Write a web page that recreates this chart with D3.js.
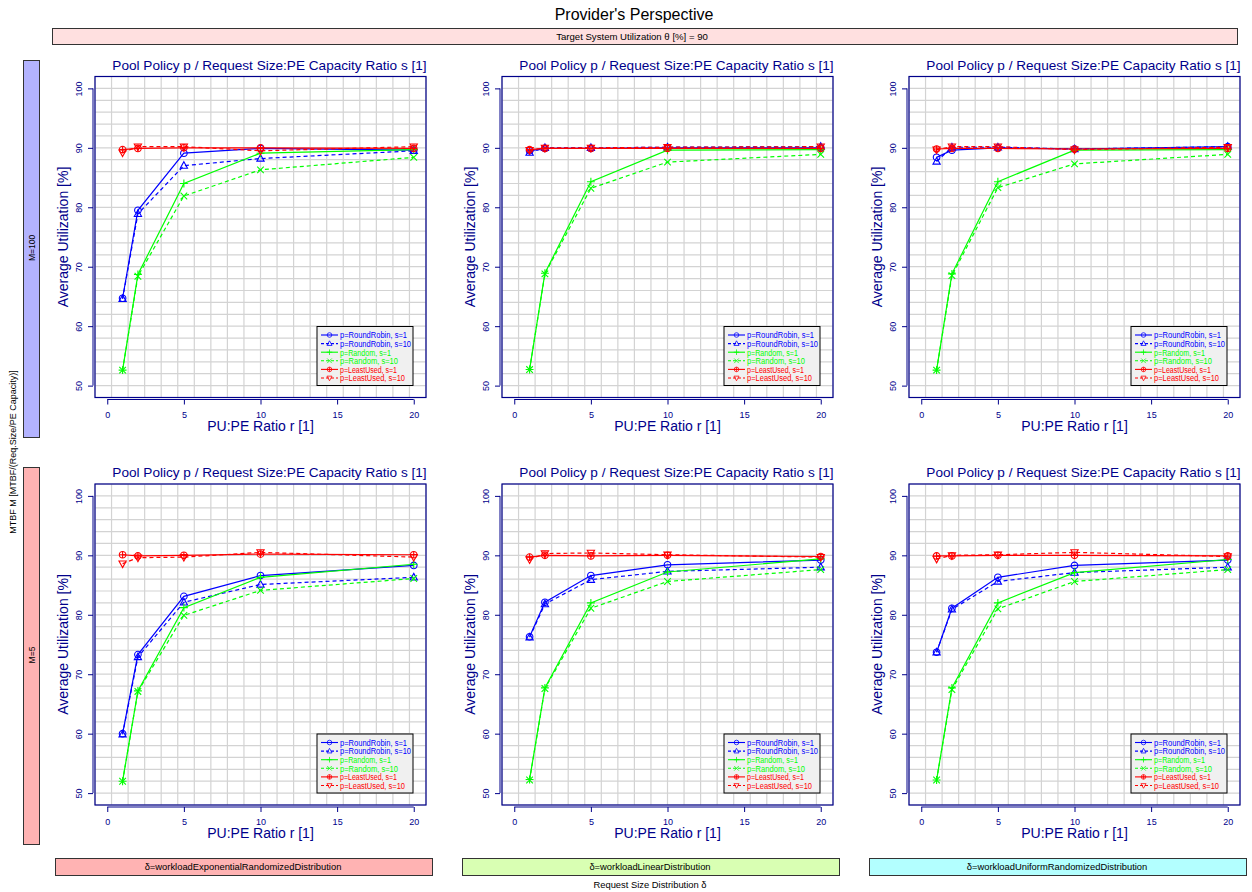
<!DOCTYPE html>
<html>
<head>
<meta charset="utf-8">
<script src="https://cdnjs.cloudflare.com/ajax/libs/d3/7.8.5/d3.min.js"></script>
<style>
  body { margin: 0; background: #fff; }
  svg { font-family: "Liberation Sans", Arial, sans-serif; }
</style>
</head>
<body>
<svg id="chart" width="1252" height="892"></svg>
<script>
// x values (PU:PE ratio r)
const ratios = [1, 2, 5, 10, 20];

const seriesLabels = [
    "p=RoundRobin, s=1", "p=RoundRobin, s=10",
    "p=Random, s=1", "p=Random, s=10",
    "p=LeastUsed, s=1", "p=LeastUsed, s=10"
];
const seriesColors = ["#0000ff", "#0000ff", "#00ff00", "#00ff00", "#ff0000", "#ff0000"];
const seriesDashed = [false, true, false, true, false, true];
const seriesMarkers = ["circle", "triangle", "plus", "cross", "circleplus", "triangledown"];

const distributionLabels = [
    "δ=workloadExponentialRandomizedDistribution",
    "δ=workloadLinearDistribution",
    "δ=workloadUniformRandomizedDistribution"
];
const distributionColors = ["#ffb3b3", "#d9ffb3", "#b3ffff"];
const mtbfLabels = ["M=100", "M=5"];
const mtbfColors = ["#b3b3ff", "#ffb3b3"];

const yTicks = [50, 60, 70, 80, 90, 100];
const xTicks = [0, 5, 10, 15, 20];

// average utilization [%], rows in seriesLabels order, columns in ratios order
const utilM100Exp = [
    [64.7, 79.5, 89.1, 89.9, 89.6],
    [64.6, 78.9, 87.0, 88.2, 89.5],
    [52.6, 68.7, 84.0, 89.1, 89.7],
    [52.6, 68.4, 81.9, 86.3, 88.4],
    [89.7, 89.9, 90.0, 90.0, 89.9],
    [89.2, 90.2, 90.2, 89.5, 90.2]
];
const utilM100Lin = [
    [89.5, 89.9, 89.9, 90.0, 90.0],
    [89.2, 90.0, 90.0, 90.1, 90.2],
    [52.7, 68.9, 84.3, 89.6, 89.7],
    [52.7, 68.8, 83.2, 87.6, 88.9],
    [89.7, 89.9, 89.9, 89.9, 89.9],
    [89.6, 90.0, 90.0, 90.1, 90.2]
];
const utilM100Uni = [
    [88.4, 89.6, 90.0, 89.8, 90.2],
    [87.7, 90.1, 90.1, 89.8, 90.2],
    [52.6, 68.8, 84.3, 89.6, 89.7],
    [52.6, 68.5, 83.3, 87.3, 88.9],
    [89.8, 89.9, 89.9, 89.8, 89.9],
    [89.7, 90.2, 90.2, 89.7, 90.1]
];
const utilM5Exp = [
    [60.0, 73.3, 83.1, 86.6, 88.3],
    [59.9, 72.9, 82.1, 85.1, 86.3],
    [52.0, 67.2, 81.2, 86.3, 88.5],
    [52.0, 67.1, 79.9, 84.1, 86.1],
    [90.1, 89.9, 90.0, 90.2, 90.1],
    [88.6, 89.6, 89.7, 90.5, 89.7]
];
const utilM5Lin = [
    [76.3, 82.1, 86.6, 88.4, 89.2],
    [76.2, 81.8, 85.9, 87.3, 88.0],
    [52.3, 67.7, 82.0, 87.2, 89.4],
    [52.2, 67.6, 81.1, 85.6, 87.6],
    [89.7, 90.0, 89.9, 90.0, 89.8],
    [89.3, 90.3, 90.4, 90.1, 89.7]
];
const utilM5Uni = [
    [73.7, 81.1, 86.3, 88.3, 89.2],
    [73.7, 80.9, 85.6, 87.1, 88.0],
    [52.2, 67.7, 82.0, 87.1, 89.3],
    [52.2, 67.4, 81.0, 85.6, 87.6],
    [89.9, 89.9, 90.0, 90.0, 89.9],
    [89.4, 90.0, 90.1, 90.5, 89.8]
];

const panels = [
    [utilM100Exp, utilM100Lin, utilM100Uni],
    [utilM5Exp, utilM5Lin, utilM5Uni]
];

const navy = "#00008b";
const svg = d3.select("#chart");

// ---- headers and strips ----
svg.append("text")
    .attr("x", 634).attr("y", 20)
    .attr("text-anchor", "middle")
    .attr("font-size", 16)
    .text("Provider's Perspective");

svg.append("rect")
    .attr("x", 52.5).attr("y", 28.5).attr("width", 1185).attr("height", 16)
    .attr("fill", "#ffe0e0").attr("stroke", "#333");
svg.append("text")
    .attr("x", 632).attr("y", 39.8)
    .attr("text-anchor", "middle")
    .attr("font-size", 9.6)
    .text("Target System Utilization θ [%] = 90");

svg.append("text")
    .attr("transform", "translate(16,452) rotate(-90)")
    .attr("text-anchor", "middle")
    .attr("font-size", 9)
    .text("MTBF M [MTBF/(Req.Size/PE Capacity)]");

mtbfLabels.forEach((lab, j) => {
    const y0 = 60 + j * 407;
    svg.append("rect")
        .attr("x", 23.5).attr("y", y0 + 0.5).attr("width", 16).attr("height", 377)
        .attr("fill", mtbfColors[j]).attr("stroke", "#333");
    svg.append("text")
        .attr("transform", `translate(34.5,${y0 + 188}) rotate(-90)`)
        .attr("text-anchor", "middle")
        .attr("font-size", 8.5)
        .text(lab);
});

distributionLabels.forEach((lab, i) => {
    const x0 = 55 + i * 407;
    svg.append("rect")
        .attr("x", x0 + 0.5).attr("y", 858.5).attr("width", 377).attr("height", 17)
        .attr("fill", distributionColors[i]).attr("stroke", "#333");
    svg.append("text")
        .attr("x", x0 + 188).attr("y", 870.3)
        .attr("text-anchor", "middle")
        .attr("font-size", 9.4)
        .text(lab);
});

svg.append("text")
    .attr("x", 650).attr("y", 887.5)
    .attr("text-anchor", "middle")
    .attr("font-size", 9.4)
    .text("Request Size Distribution δ");

// ---- marker drawing ----
function drawMarker(g, type, x, y, color) {
    const s = 3.3;
    const m = g.append("g").attr("transform", `translate(${x},${y})`)
        .attr("fill", "none").attr("stroke", color).attr("stroke-width", 1.1);
    if (type === "circle") {
        m.append("circle").attr("r", s);
    } else if (type === "triangle") {
        m.append("path").attr("d", `M0,${-s * 1.2}L${s * 1.1},${s * 0.8}L${-s * 1.1},${s * 0.8}Z`);
    } else if (type === "triangledown") {
        m.append("path").attr("d", `M0,${s * 1.2}L${s * 1.1},${-s * 0.8}L${-s * 1.1},${-s * 0.8}Z`);
    } else if (type === "plus") {
        m.append("path").attr("d", `M${-s * 1.2},0H${s * 1.2}M0,${-s * 1.2}V${s * 1.2}`);
    } else if (type === "cross") {
        m.append("path").attr("d", `M${-s},${-s}L${s},${s}M${-s},${s}L${s},${-s}`);
    } else if (type === "circleplus") {
        m.append("circle").attr("r", s);
        m.append("path").attr("d", `M${-s},0H${s}M0,${-s}V${s}`);
    }
}

// widths the legend texts take in the reference (condensed font)
const legendTextWidths = [67, 71, 51, 58, 57, 65];

// ---- panels ----
const plotW = 331, plotH = 321;

panels.forEach((row, j) => {
    row.forEach((data, i) => {
        const left = 95 + i * 407;
        const top = 76.5 + j * 407.5;
        const g = svg.append("g").attr("transform", `translate(${left},${top})`);

        const x = d3.scaleLinear().domain([-0.8, 20.8]).range([0, plotW]);
        const y = d3.scaleLinear().domain([48, 102]).range([plotH, 0]);

        // grid
        const gx = d3.range(21).map(k => -0.8 + k * 21.6 / 20);
        const gy = d3.range(48, 103, 2);
        g.append("g").selectAll("line").data(gx).join("line")
            .attr("x1", d => x(d)).attr("x2", d => x(d))
            .attr("y1", 0).attr("y2", plotH)
            .attr("stroke", "#d3d3d3").attr("stroke-width", 1.2);
        g.append("g").selectAll("line").data(gy).join("line")
            .attr("x1", 0).attr("x2", plotW)
            .attr("y1", d => y(d)).attr("y2", d => y(d))
            .attr("stroke", "#d3d3d3").attr("stroke-width", 1.2);

        // series
        const line = d3.line().x((d, k) => x(ratios[k])).y(d => y(d));
        data.forEach((vals, s) => {
            g.append("path")
                .attr("d", line(vals))
                .attr("fill", "none")
                .attr("stroke", seriesColors[s])
                .attr("stroke-width", 1.2)
                .attr("stroke-dasharray", seriesDashed[s] ? "4,3" : null);
            vals.forEach((v, k) => drawMarker(g, seriesMarkers[s], x(ratios[k]), y(v), seriesColors[s]));
        });

        // box
        g.append("rect")
            .attr("width", plotW).attr("height", plotH)
            .attr("fill", "none").attr("stroke", navy).attr("stroke-width", 1.2);

        // x axis
        const xAxis = g.append("g")
            .attr("transform", `translate(0,${plotH + 2})`)
            .call(d3.axisBottom(x).tickValues(xTicks).tickSize(5).tickPadding(7).tickSizeOuter(0));
        xAxis.select(".domain").attr("stroke", navy).attr("d", `M${x(0)},0H${x(20)}`);
        xAxis.selectAll(".tick line").attr("stroke", navy);
        xAxis.selectAll(".tick text").attr("fill", navy).attr("font-size", 9)
            .attr("font-family", "Liberation Sans, Arial, sans-serif");

        // y axis
        const yAxis = g.append("g")
            .attr("transform", "translate(-2,0)")
            .call(d3.axisLeft(y).tickValues(yTicks).tickSize(5).tickSizeOuter(0));
        yAxis.select(".domain").attr("stroke", navy).attr("d", `M0,${y(50)}V${y(100)}`);
        yAxis.selectAll(".tick line").attr("stroke", navy);
        yAxis.selectAll(".tick text")
            .attr("fill", navy).attr("font-size", 9)
            .attr("font-family", "Liberation Sans, Arial, sans-serif")
            .attr("x", null).attr("dy", null)
            .attr("text-anchor", "middle")
            .attr("transform", "translate(-11,0) rotate(-90)");

        // titles
        g.append("text")
            .attr("x", plotW / 2 + 9).attr("y", -7)
            .attr("text-anchor", "middle")
            .attr("font-size", 13.6).attr("fill", navy)
            .text("Pool Policy p / Request Size:PE Capacity Ratio s [1]");
        g.append("text")
            .attr("x", x(10)).attr("y", plotH + 33)
            .attr("text-anchor", "middle")
            .attr("font-size", 14).attr("fill", navy)
            .text("PU:PE Ratio r [1]");
        g.append("text")
            .attr("transform", `translate(-27,${plotH / 2}) rotate(-90)`)
            .attr("text-anchor", "middle")
            .attr("font-size", 14).attr("fill", navy)
            .text("Average Utilization [%]");

        // legend
        const lw = 96, lh = 59;
        const lg = g.append("g").attr("transform", `translate(${plotW - 13 - lw},${plotH - 12 - lh})`);
        lg.append("rect").attr("width", lw).attr("height", lh)
            .attr("fill", "#f0f0f0").attr("stroke", "#000").attr("stroke-width", 1);
        seriesLabels.forEach((lab, s) => {
            const ly = 8.5 + s * 8.6;
            lg.append("line")
                .attr("x1", 4).attr("x2", 21).attr("y1", ly).attr("y2", ly)
                .attr("stroke", seriesColors[s]).attr("stroke-width", 1.1)
                .attr("stroke-dasharray", seriesDashed[s] ? "3,2" : null);
            const mg = lg.append("g").attr("transform", `translate(12.5,${ly}) scale(0.7)`);
            drawMarker(mg, seriesMarkers[s], 0, 0, seriesColors[s]);
            lg.append("text")
                .attr("x", 23).attr("y", ly + 3.3)
                .attr("font-size", 9.6)
                .attr("textLength", legendTextWidths[s])
                .attr("lengthAdjust", "spacingAndGlyphs")
                .attr("fill", seriesColors[s])
                .text(lab);
        });
    });
});
</script>
</body>
</html>
